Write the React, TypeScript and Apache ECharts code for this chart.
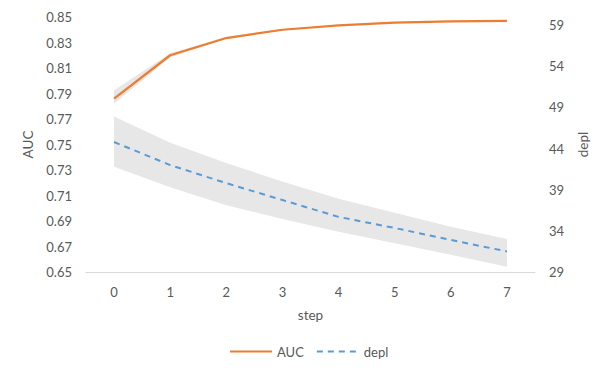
import React, { useEffect, useRef } from "react";
import * as echarts from "echarts";

const steps = ["0", "1", "2", "3", "4", "5", "6", "7"];
const auc = [0.786, 0.82, 0.8335, 0.84, 0.8435, 0.8455, 0.8465, 0.847];
const aucLower = [0.782, 0.8185, 0.833, 0.8395, 0.8432, 0.8452, 0.8463, 0.8468];
const aucUpper = [0.7925, 0.8215, 0.8345, 0.8405, 0.8438, 0.8458, 0.8467, 0.8472];
const depl = [44.8, 42.0, 39.8, 37.75, 35.7, 34.35, 32.9, 31.5];
const deplLower = [41.8, 39.3, 37.1, 35.45, 33.9, 32.5, 31.1, 29.65];
const deplUpper = [47.9, 44.7, 42.25, 40.0, 37.9, 36.2, 34.5, 33.0];

const FONT = "Lato";
const TXT = "#595959";
const BAND = "#e7e7e7";

export default function App() {
  const ref = useRef<HTMLDivElement>(null);
  useEffect(() => {
    if (!ref.current) return;
    const chart = echarts.init(ref.current, undefined, { renderer: "svg" });
    const diff = (a: number[], b: number[]) => a.map((v, i) => +(v - b[i]).toFixed(5));
    chart.setOption({
      animation: false,
      textStyle: { fontFamily: FONT },
      grid: { left: 86, right: 56, top: 17, bottom: 103 },
      legend: {
        data: [
          { name: "AUC", itemStyle: { opacity: 0 } },
          { name: "depl", itemStyle: { opacity: 0 } },
        ],
        bottom: 12,
        left: 224,
        itemWidth: 42,
        itemHeight: 14,
        itemGap: 12,
        textStyle: { color: TXT, fontSize: 13, fontFamily: FONT },
      },
      xAxis: {
        type: "category",
        data: steps,
        boundaryGap: true,
        name: "step",
        nameLocation: "middle",
        nameGap: 36,
        nameTextStyle: { color: TXT, fontSize: 13.5, fontFamily: FONT },
        axisLine: { lineStyle: { color: "#d9d9d9", width: 1 } },
        axisTick: { show: false },
        axisLabel: { color: TXT, fontSize: 13, margin: 13, fontFamily: FONT },
      },
      yAxis: [
        {
          type: "value",
          min: 0.65,
          max: 0.85,
          interval: 0.02,
          name: "AUC",
          nameLocation: "middle",
          nameGap: 46,
          nameTextStyle: { color: TXT, fontSize: 13.5, fontFamily: FONT },
          splitLine: { show: false },
          axisLine: { show: false },
          axisTick: { show: false },
          axisLabel: {
            color: TXT,
            fontSize: 13,
            margin: 14,
            fontFamily: FONT,
            formatter: (v: number) => v.toFixed(2),
          },
        },
        {
          type: "value",
          min: 29,
          max: 60,
          interval: 5,
          name: "depl",
          nameLocation: "middle",
          nameGap: 41,
          nameRotate: 90,
          nameTextStyle: { color: TXT, fontSize: 13.5, fontFamily: FONT },
          splitLine: { show: false },
          axisLine: { show: false },
          axisTick: { show: false },
          axisLabel: {
            color: TXT,
            fontSize: 13,
            margin: 14,
            fontFamily: FONT,
            formatter: (v: number) => (Math.abs((v - 29) % 5) < 1e-6 ? String(v) : ""),
          },
        },
      ],
      series: [
        {
          name: "deplBandLow",
          type: "line",
          yAxisIndex: 1,
          stack: "deplBand",
          data: deplLower,
          symbol: "none",
          lineStyle: { opacity: 0 },
          silent: true,
          z: 1,
        },
        {
          name: "deplBand",
          type: "line",
          yAxisIndex: 1,
          stack: "deplBand",
          data: diff(deplUpper, deplLower),
          symbol: "none",
          lineStyle: { opacity: 0 },
          areaStyle: { color: BAND, opacity: 1 },
          silent: true,
          z: 1,
        },
        {
          name: "aucBandLow",
          type: "line",
          yAxisIndex: 0,
          stack: "aucBand",
          data: aucLower,
          symbol: "none",
          lineStyle: { opacity: 0 },
          silent: true,
          z: 1,
        },
        {
          name: "aucBand",
          type: "line",
          yAxisIndex: 0,
          stack: "aucBand",
          data: diff(aucUpper, aucLower),
          symbol: "none",
          lineStyle: { opacity: 0 },
          areaStyle: { color: BAND, opacity: 1 },
          silent: true,
          z: 1,
        },
        {
          name: "AUC",
          type: "line",
          yAxisIndex: 0,
          data: auc,
          symbol: "none",
          itemStyle: { color: "#ED7D31" },
          lineStyle: { color: "#ED7D31", width: 2.25 },
          z: 3,
        },
        {
          name: "depl",
          type: "line",
          yAxisIndex: 1,
          data: depl,
          symbol: "none",
          itemStyle: { color: "#5B9BD5" },
          lineStyle: { color: "#5B9BD5", width: 2, type: [6, 5] },
          z: 3,
        },
      ],
    });
    return () => chart.dispose();
  }, []);
  return (
    <div
      ref={ref}
      style={{ position: "fixed", left: 0, top: 0, width: 598, height: 375, background: "#fff" }}
    />
  );
}
